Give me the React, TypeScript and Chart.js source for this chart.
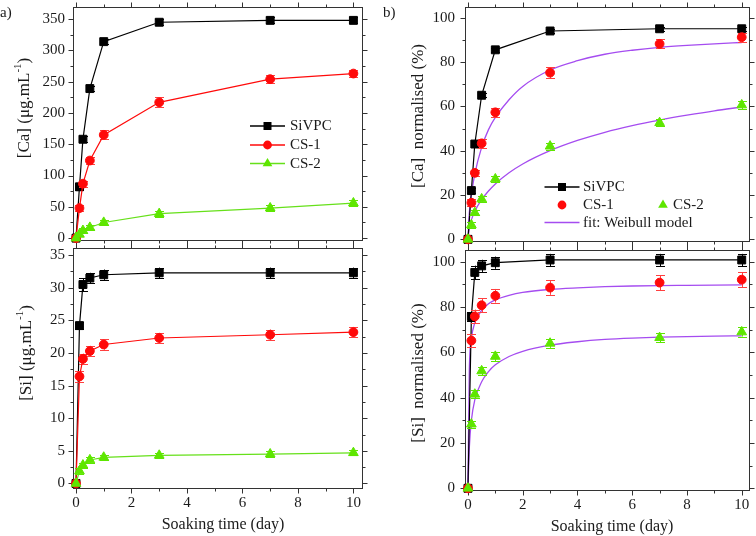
import { useEffect, useRef } from 'react';
import { Chart, registerables } from 'chart.js';
Chart.register(...registerables);

const FONT = "'Liberation Serif', 'Times New Roman', serif";
const W = 756;
const H = 536;

// ---------- data ----------
const times = [0, 0.125, 0.25, 0.5, 1, 3, 7, 10];
const fitTimes = [0, 0.05, 0.125, 0.25, 0.5, 0.75, 1, 1.5, 2, 3, 4, 5, 6, 7, 8, 9, 10];

// (a) top: [Ca] (µg/mL)
const caSiVPC = [0, 82, 158, 239, 314, 345, 348, 348];
const caSiVPCErr = [0, 5, 5, 4, 4, 5, 5, 5];
const caCS1 = [0, 48, 87, 124, 165, 217, 254, 263];
const caCS1Err = [0, 5, 5, 6, 7, 8, 6, 6];
const caCS2 = [0, 6, 12, 17, 25, 39, 48, 56];
const caCS2Err = [0, 3, 4, 4, 4, 5, 5, 5];

// (a) bottom: [Si] (µg/mL)
const siSiVPC = [0, 24.2, 30.5, 31.5, 32.0, 32.3, 32.3, 32.3];
const siSiVPCErr = [0, 0.5, 1.0, 0.8, 0.8, 0.8, 0.8, 0.8];
const siCS1 = [0, 16.4, 19.1, 20.3, 21.3, 22.3, 22.8, 23.2];
const siCS1Err = [0, 0.8, 0.8, 0.8, 0.8, 0.8, 0.8, 0.8];
const siCS2 = [0, 1.9, 2.8, 3.6, 4.0, 4.3, 4.5, 4.7];
const siCS2Err = [0, 0.4, 0.4, 0.4, 0.4, 0.4, 0.4, 0.4];

// (b) top: [Ca] normalised (%)
const caNormSiVPC = [0, 22, 43, 65, 85.5, 94, 95, 95];
const caNormSiVPCErr = [0, 1, 1, 1, 1, 1, 1, 1];
const caNormCS1 = [0, 16.5, 30, 43.3, 57.3, 75.2, 88.2, 91.2];
const caNormCS1Err = [0, 1.5, 1.5, 2, 2, 2.5, 2, 2];
const caNormCS2 = [0, 6.5, 12, 18.2, 27.2, 42, 52.6, 60.6];
const caNormCS2Err = [0, 1.2, 1.2, 1.2, 1.5, 1.5, 1.5, 1.8];
const caFitCS1 = [0, 12, 20, 29.5, 41.5, 49.5, 55, 63, 69, 76.4, 80.6, 83.5, 85.3, 86.6, 87.5, 88.2, 88.8];
const caFitCS2 = [0, 5.4, 8.8, 12.7, 17.9, 21.8, 25, 30, 34, 40, 44.6, 48.3, 51.3, 53.8, 56, 58, 59.7];

// (b) bottom: [Si] normalised (%)
const siNormSiVPC = [0, 75.8, 95.3, 98.2, 99.6, 100.8, 100.8, 100.8];
const siNormSiVPCErr = [0, 2, 3, 2.7, 2.7, 2.7, 2.7, 2.7];
const siNormCS1 = [0, 65.2, 75.9, 80.8, 85, 88.6, 90.8, 92.1];
const siNormCS1Err = [0, 3, 3, 3, 3, 3.2, 3.3, 3.3];
const siNormCS2 = [0, 28.3, 41.5, 51.8, 58.2, 64, 66.5, 69];
const siNormCS2Err = [0, 1.5, 1.8, 1.8, 2, 2, 2, 2];
const siFitCS1 = [0, 52, 66, 73, 78.5, 81.5, 83.2, 85.2, 86.5, 87.8, 88.5, 89, 89.3, 89.5, 89.6, 89.7, 89.8];
const siFitCS2 = [0, 18, 30, 39, 47, 51.5, 54.5, 58.2, 60.5, 63.2, 64.7, 65.7, 66.3, 66.7, 67, 67.2, 67.3];

// ---------- styles ----------
const BLACK = '#000000';
const RED = '#ff0a0a';
const RED_ERR = '#ff4040';
const GREEN = '#5ee600';
const GREEN_LINE = '#66e01a';
const PURPLE = '#a54cf0';
const TEXT = '#1a1a1a';

const pts = (xs: number[], ys: number[]) => xs.map((x, i) => ({ x, y: ys[i] }));

type Seg = { t: string; sup?: boolean };
type TextItem = { segs: Seg[]; x: number; y: number; size: number; rotate?: boolean; align?: 'left' | 'center' };
type LegendItem = { label: string; x: number; y: number; line?: string; marker?: string; color?: string; textX: number };
type Panel = {
  area: { left: number; top: number; right: number; bottom: number };
  xMin: number; xMax: number; yMin: number; yMax: number; yMajor: number; yMinor: number;
  xLabels: boolean; yPad: number;
  datasets: any[];
  texts: TextItem[];
  legend: LegendItem[];
};

function seriesDS(label: string, ys: number[], errs: number[], color: string, lineColor: string, errColor: string, style: string, showLine: boolean, order: number) {
  const radius = style === 'rect' ? 5.6 : style === 'circle' ? 4.4 : 5.6;
  return {
    label,
    data: pts(times, ys),
    errors: errs,
    errColor,
    showLine,
    borderColor: lineColor,
    borderWidth: 1.2,
    backgroundColor: color,
    pointBackgroundColor: color,
    pointBorderColor: color,
    pointBorderWidth: 1,
    pointStyle: style,
    pointRadius: radius,
    tension: 0,
    clip: false,
    order,
  };
}

function fitDS(label: string, ys: number[], order: number) {
  return {
    label,
    data: pts(fitTimes, ys),
    showLine: true,
    borderColor: PURPLE,
    borderWidth: 1.3,
    pointRadius: 0,
    cubicInterpolationMode: 'monotone',
    clip: false,
    order,
  };
}

const ylabelSegs = (el: string): Seg[] => [{ t: `[${el}] (\u03bcg.mL` }, { t: '-1', sup: true }, { t: ')' }];

const panels: Panel[] = [
  {
    area: { left: 73, top: 2, right: 362, bottom: 240 },
    xMin: -0.108, xMax: 10.31, yMin: -3, yMax: 370, yMajor: 50, yMinor: 25,
    xLabels: false, yPad: 8,
    datasets: [
      seriesDS('SiVPC', caSiVPC, caSiVPCErr, BLACK, BLACK, BLACK, 'rect', true, 3),
      seriesDS('CS-1', caCS1, caCS1Err, RED, RED, RED_ERR, 'circle', true, 2),
      seriesDS('CS-2', caCS2, caCS2Err, GREEN, GREEN_LINE, GREEN, 'triangle', true, 1),
    ],
    texts: [
      { segs: [{ t: 'a)' }], x: 0, y: 13, size: 15, align: 'left' },
      { segs: ylabelSegs('Ca'), x: 25, y: 108, size: 17, rotate: true },
    ],
    legend: [
      { label: 'SiVPC', x: 267.5, y: 126, line: BLACK, marker: 'rect', color: BLACK, textX: 290 },
      { label: 'CS-1', x: 267.5, y: 145, line: RED, marker: 'circle', color: RED, textX: 290 },
      { label: 'CS-2', x: 267.5, y: 163.5, line: GREEN_LINE, marker: 'triangle', color: GREEN, textX: 290 },
    ],
  },
  {
    area: { left: 73, top: 248, right: 362, bottom: 488 },
    xMin: -0.108, xMax: 10.31, yMin: -0.7, yMax: 36.1, yMajor: 5, yMinor: 2.5,
    xLabels: true, yPad: 8,
    datasets: [
      seriesDS('SiVPC', siSiVPC, siSiVPCErr, BLACK, BLACK, BLACK, 'rect', true, 3),
      seriesDS('CS-1', siCS1, siCS1Err, RED, RED, RED_ERR, 'circle', true, 2),
      seriesDS('CS-2', siCS2, siCS2Err, GREEN, GREEN_LINE, GREEN, 'triangle', true, 1),
    ],
    texts: [
      { segs: ylabelSegs('Si'), x: 27, y: 353, size: 17, rotate: true },
      { segs: [{ t: 'Soaking time (day)' }], x: 223, y: 525, size: 16 },
    ],
    legend: [],
  },
  {
    area: { left: 465, top: 2, right: 753, bottom: 241 },
    xMin: -0.108, xMax: 10.28, yMin: -0.75, yMax: 105, yMajor: 20, yMinor: 10,
    xLabels: false, yPad: 10,
    datasets: [
      seriesDS('SiVPC', caNormSiVPC, caNormSiVPCErr, BLACK, BLACK, BLACK, 'rect', true, 3),
      seriesDS('CS-1', caNormCS1, caNormCS1Err, RED, RED, RED_ERR, 'circle', false, 2),
      seriesDS('CS-2', caNormCS2, caNormCS2Err, GREEN, GREEN_LINE, GREEN, 'triangle', false, 1),
      fitDS('fit: Weibull model', caFitCS1, 4),
      fitDS('fit: Weibull model', caFitCS2, 5),
    ],
    texts: [
      { segs: [{ t: 'b)' }], x: 383, y: 13, size: 15, align: 'left' },
      { segs: [{ t: '[Ca]  normalised (%)' }], x: 419, y: 116, size: 17, rotate: true },
    ],
    legend: [
      { label: 'SiVPC', x: 562, y: 187, line: BLACK, marker: 'rect', color: BLACK, textX: 583 },
      { label: 'CS-1', x: 562, y: 205, marker: 'circle', color: RED, textX: 583 },
      { label: 'CS-2', x: 663, y: 205, marker: 'triangle', color: GREEN, textX: 673 },
      { label: 'fit: Weibull model', x: 562, y: 222.5, line: PURPLE, textX: 583 },
    ],
  },
  {
    area: { left: 465, top: 250, right: 753, bottom: 490 },
    xMin: -0.108, xMax: 10.28, yMin: -0.75, yMax: 105.2, yMajor: 20, yMinor: 10,
    xLabels: true, yPad: 10,
    datasets: [
      seriesDS('SiVPC', siNormSiVPC, siNormSiVPCErr, BLACK, BLACK, BLACK, 'rect', true, 3),
      seriesDS('CS-1', siNormCS1, siNormCS1Err, RED, RED, RED_ERR, 'circle', false, 2),
      seriesDS('CS-2', siNormCS2, siNormCS2Err, GREEN, GREEN_LINE, GREEN, 'triangle', false, 1),
      fitDS('fit: Weibull model', siFitCS1, 4),
      fitDS('fit: Weibull model', siFitCS2, 5),
    ],
    texts: [
      { segs: [{ t: '[Si]  normalised (%)' }], x: 419, y: 373, size: 17, rotate: true },
      { segs: [{ t: 'Soaking time (day)' }], x: 612, y: 527, size: 16 },
    ],
    legend: [],
  },
];

// ---------- drawing helpers ----------
const isMajor = (v: number, step: number) => Math.abs(v / step - Math.round(v / step)) < 1e-6;

function drawMarker(ctx: CanvasRenderingContext2D, style: string, x: number, y: number, color: string) {
  ctx.save();
  ctx.fillStyle = color;
  ctx.beginPath();
  if (style === 'rect') {
    ctx.rect(x - 4, y - 4, 8, 8);
  } else if (style === 'circle') {
    ctx.arc(x, y, 4.4, 0, Math.PI * 2);
  } else {
    const r = 5.6;
    for (let k = 0; k < 3; k++) {
      const a = (k * 2 * Math.PI) / 3;
      const px = x + Math.sin(a) * r;
      const py = y - Math.cos(a) * r;
      if (k === 0) ctx.moveTo(px, py); else ctx.lineTo(px, py);
    }
    ctx.closePath();
  }
  ctx.fill();
  ctx.restore();
}

function drawRich(ctx: CanvasRenderingContext2D, item: TextItem) {
  ctx.save();
  ctx.translate(item.x, item.y);
  if (item.rotate) ctx.rotate(-Math.PI / 2);
  const base = `${item.size}px ${FONT}`;
  const supFont = `${Math.round(item.size * 0.62)}px ${FONT}`;
  const widths = item.segs.map((s) => {
    ctx.font = s.sup ? supFont : base;
    return ctx.measureText(s.t).width;
  });
  const total = widths.reduce((a, b) => a + b, 0);
  let x = item.align === 'left' ? 0 : -total / 2;
  ctx.textBaseline = 'middle';
  ctx.textAlign = 'left';
  ctx.fillStyle = TEXT;
  item.segs.forEach((s, i) => {
    ctx.font = s.sup ? supFont : base;
    ctx.fillText(s.t, x, s.sup ? -item.size * 0.38 : 0);
    x += widths[i];
  });
  ctx.restore();
}

function makePlugins(panel: Panel) {
  const frame = {
    id: 'frameTicks',
    beforeDatasetsDraw(chart: any) {
      const { ctx, chartArea: a, scales } = chart;
      const xs = scales.x;
      const ys = scales.y;
      ctx.save();
      ctx.strokeStyle = '#333333';
      ctx.lineWidth = 1;
      const L = Math.round(a.left) + 0.5;
      const R = Math.round(a.right) + 0.5;
      const T = Math.round(a.top) + 0.5;
      const B = Math.round(a.bottom) + 0.5;
      ctx.strokeRect(L, T, R - L, B - T);
      ctx.beginPath();
      ys.ticks.forEach((t: any) => {
        const p = Math.round(ys.getPixelForValue(t.value)) + 0.5;
        const len = isMajor(t.value, panel.yMajor) ? 5 : 3;
        ctx.moveTo(L - len, p); ctx.lineTo(L, p);
        ctx.moveTo(R, p); ctx.lineTo(R + len, p);
      });
      xs.ticks.forEach((t: any) => {
        const p = Math.round(xs.getPixelForValue(t.value)) + 0.5;
        const len = isMajor(t.value, 2) ? 5 : 3;
        ctx.moveTo(p, B); ctx.lineTo(p, B + len);
        ctx.moveTo(p, T); ctx.lineTo(p, T - len);
      });
      ctx.stroke();
      ctx.restore();
    },
  };
  const errorBars = {
    id: 'errorBars',
    beforeDatasetDraw(chart: any, args: any) {
      const ds = chart.data.datasets[args.index];
      if (!ds.errors) return;
      const { ctx, scales } = chart;
      const ys = scales.y;
      ctx.save();
      ctx.strokeStyle = ds.errColor;
      ctx.lineWidth = 1;
      ctx.beginPath();
      args.meta.data.forEach((el: any, i: number) => {
        const e = ds.errors[i];
        if (!e) return;
        const v = ds.data[i].y;
        const x = Math.round(el.x) + 0.5;
        const y1 = ys.getPixelForValue(v + e);
        const y2 = ys.getPixelForValue(v - e);
        const cw = 4.5;
        ctx.moveTo(x, y1); ctx.lineTo(x, y2);
        ctx.moveTo(x - cw, Math.round(y1) + 0.5); ctx.lineTo(x + cw, Math.round(y1) + 0.5);
        ctx.moveTo(x - cw, Math.round(y2) + 0.5); ctx.lineTo(x + cw, Math.round(y2) + 0.5);
      });
      ctx.stroke();
      ctx.restore();
    },
  };
  const annotations = {
    id: 'annotations',
    afterDraw(chart: any) {
      const { ctx } = chart;
      panel.texts.forEach((t) => drawRich(ctx, t));
      panel.legend.forEach((it) => {
        if (it.line) {
          ctx.save();
          ctx.strokeStyle = it.line;
          ctx.lineWidth = 1.3;
          ctx.beginPath();
          ctx.moveTo(it.x - 17.5, it.y);
          ctx.lineTo(it.x + 17.5, it.y);
          ctx.stroke();
          ctx.restore();
        }
        if (it.marker) drawMarker(ctx, it.marker, it.x, it.y, it.color || BLACK);
        ctx.save();
        ctx.font = `15px ${FONT}`;
        ctx.fillStyle = TEXT;
        ctx.textBaseline = 'middle';
        ctx.textAlign = 'left';
        ctx.fillText(it.label, it.textX, it.y + 0.5);
        ctx.restore();
      });
    },
  };
  return [frame, errorBars, annotations];
}

function buildConfig(panel: Panel): any {
  const { area } = panel;
  const zeroPad = (s: any) => {
    s.paddingTop = 0; s.paddingBottom = 0; s.paddingLeft = 0; s.paddingRight = 0;
  };
  return {
    type: 'scatter',
    data: { datasets: panel.datasets },
    plugins: makePlugins(panel),
    options: {
      animation: false,
      responsive: false,
      devicePixelRatio: 1,
      events: [],
      layout: { padding: { left: 0, top: area.top, right: W - area.right, bottom: 0 } },
      plugins: { legend: { display: false }, tooltip: { enabled: false } },
      scales: {
        x: {
          type: 'linear',
          position: 'bottom',
          min: panel.xMin,
          max: panel.xMax,
          grid: { display: false, drawTicks: false },
          border: { display: false },
          ticks: {
            display: panel.xLabels,
            stepSize: 1,
            includeBounds: false,
            autoSkip: false,
            maxRotation: 0,
            padding: 6,
            color: TEXT,
            font: { family: FONT, size: 15 },
            callback: (v: number) => (isMajor(v, 2) ? String(v) : ''),
          },
          afterFit: (s: any) => { s.height = H - area.bottom; zeroPad(s); },
        },
        y: {
          type: 'linear',
          position: 'left',
          min: panel.yMin,
          max: panel.yMax,
          grid: { display: false, drawTicks: false },
          border: { display: false },
          ticks: {
            stepSize: panel.yMinor,
            includeBounds: false,
            autoSkip: false,
            padding: panel.yPad,
            color: TEXT,
            font: { family: FONT, size: 15 },
            callback: (v: number) => (isMajor(v, panel.yMajor) ? String(v) : ''),
          },
          afterFit: (s: any) => { s.width = area.left; zeroPad(s); },
        },
      },
    },
  };
}

function PanelChart({ panel }: { panel: Panel }) {
  const ref = useRef<HTMLCanvasElement>(null);
  useEffect(() => {
    if (!ref.current) return;
    const chart = new Chart(ref.current, buildConfig(panel));
    return () => chart.destroy();
  }, [panel]);
  return (
    <canvas
      ref={ref}
      width={W}
      height={H}
      style={{ position: 'absolute', left: 0, top: 0, width: W, height: H }}
    />
  );
}

export default function App() {
  return (
    <div style={{ position: 'fixed', left: 0, top: 0, width: W, height: H, background: '#ffffff', overflow: 'hidden' }}>
      {panels.map((p, i) => (
        <PanelChart key={i} panel={p} />
      ))}
    </div>
  );
}
